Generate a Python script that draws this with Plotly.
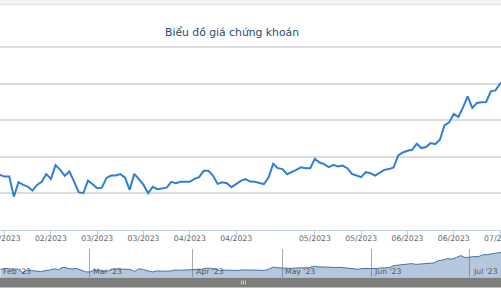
import pandas as pd
import plotly.graph_objects as go

title_text = "Biểu đồ giá chứng khoán"

# closing prices per trading day (Feb 1 2023 .. Jul 12 2023)
prices = [
    17.2, 17.9,
    17.53, 17.30, 17.30, 14.56, 16.53, 16.16, 15.93, 15.38, 16.16, 16.58,
    17.63, 16.99, 18.86, 18.22, 17.40, 17.99, 16.62, 15.16, 15.03, 16.75,
    16.26, 15.71, 15.79, 17.12, 17.44, 17.44, 17.63, 17.16, 15.48, 17.67,
    16.95, 16.16, 15.03, 15.89, 15.58, 15.71, 15.79, 16.58, 16.40, 16.58,
    16.58, 16.58, 16.99, 17.22, 18.08, 18.08, 17.44, 16.30, 16.53, 16.40,
    15.85, 16.30, 16.71, 16.95, 16.62, 16.58, 16.40, 16.26, 17.16, 19.04,
    18.45, 18.32, 17.63, 17.90, 18.22, 18.56, 18.45, 18.45, 19.73, 19.22,
    19.00, 18.59, 18.90, 18.67, 18.81, 18.45, 17.67, 17.44, 17.22, 17.90,
    17.77, 17.44, 17.85, 18.22, 18.32, 18.53, 20.18, 20.59, 20.82, 20.96,
    21.78, 21.19, 21.33, 21.88, 21.74, 22.33, 24.29, 24.70, 25.85, 25.44,
    26.75, 28.26, 26.67, 27.36, 27.44, 27.49, 28.95, 29.08, 30.00,
    30.4, 30.8,
]

holidays = ["2023-05-01", "2023-05-02", "2023-05-03"]
main_tick_dates = ["2023-02-06", "2023-02-20", "2023-03-06", "2023-03-20",
                   "2023-04-03", "2023-04-17", "2023-05-15", "2023-05-29",
                   "2023-06-12", "2023-06-26", "2023-07-10"]
nav_month_dates = ["2023-02-01", "2023-03-01", "2023-04-03", "2023-05-04",
                   "2023-06-01", "2023-07-03"]
grid_values = [15, 20, 25, 30, 35]

days = pd.bdate_range("2023-02-01", "2023-07-12")
days = days[~days.isin(pd.to_datetime(holidays))]
pos = list(range(len(days)))

main_tickvals = [days.get_loc(pd.Timestamp(d)) for d in main_tick_dates]
main_ticktext = [pd.Timestamp(d).strftime("%m/%Y") for d in main_tick_dates]
nav_vals = [days.get_loc(pd.Timestamp(d)) for d in nav_month_dates]
nav_text = [pd.Timestamp(d).strftime("%b '%y") for d in nav_month_dates]

H = 300.0
fig = go.Figure()
fig.add_trace(go.Scatter(x=pos, y=prices, mode="lines",
                         line=dict(color="#2f7ed8", width=2),
                         xaxis="x", yaxis="y", hoverinfo="skip"))
fig.add_trace(go.Scatter(x=pos, y=prices, mode="lines",
                         line=dict(color="#4572A7", width=1),
                         fill="tozeroy", fillcolor="rgba(69,114,167,0.4)",
                         xaxis="x2", yaxis="y2", hoverinfo="skip"))

font = "DejaVu Sans"
fig.update_layout(
    width=501, height=300,
    margin=dict(l=0, r=0, t=0, b=0),
    paper_bgcolor="white", plot_bgcolor="rgba(0,0,0,0)",
    showlegend=False,
    title=dict(text=title_text, x=232 / 501, xanchor="center",
               y=1 - 32 / H, yanchor="middle",
               font=dict(family=font, size=10.8, color="#274b6d")),
    xaxis=dict(domain=[0, 1], range=[2, 110.2], anchor="y",
               tickmode="array", tickvals=main_tickvals, ticktext=main_ticktext,
               ticklabeloverflow="allow", automargin=False,
               ticklabelstandoff=-4,
               showgrid=False, zeroline=False,
               showline=True, linecolor="#C0D0E0", linewidth=1,
               ticks="outside", ticklen=5, tickcolor="#C0D0E0",
               tickfont=dict(family=font, size=7.7, color="#666666")),
    yaxis=dict(domain=[1 - 230 / H, 1 - 44.1 / H], range=[10, 35.4], anchor="x",
               tickmode="array", tickvals=grid_values, showticklabels=False,
               showgrid=True, gridcolor="#dcdcdc", gridwidth=1.5,
               zeroline=False, showline=False, automargin=False),
    xaxis2=dict(domain=[0, 1], range=[-0.1, 112], anchor="y2",
                tickmode="array", tickvals=nav_vals, showticklabels=False,
                showgrid=True, gridcolor="#a9a9a9", gridwidth=1,
                zeroline=False, showline=False, ticks="", automargin=False),
    yaxis2=dict(domain=[1 - 277 / H, 1 - 249 / H], range=[11, 33.6], anchor="x2",
                showgrid=False, showticklabels=False, zeroline=False,
                showline=False, ticks="", automargin=False),
)

for v, t in zip(nav_vals, nav_text):
    fig.add_annotation(x=v, xref="x2", y=1 - 271.3 / H, yref="paper",
                       text=t, showarrow=False, xanchor="left", yanchor="middle",
                       xshift=1, font=dict(family=font, size=7.7, color="#555555"))

shapes = [
    dict(type="rect", xref="paper", yref="paper", x0=0, x1=1, y0=1 - 4.5 / H, y1=1,
         fillcolor="#f4f4f4", line=dict(width=0), layer="below"),
    dict(type="line", xref="paper", yref="paper", x0=0, x1=1, y0=1 - 4.5 / H, y1=1 - 4.5 / H,
         line=dict(color="#e0e0e0", width=1)),
    dict(type="rect", xref="paper", yref="paper", x0=0, x1=1, y0=1 - 287.5 / H, y1=1 - 277.5 / H,
         fillcolor="#7d7d7d", line=dict(width=0)),
]
for gx in (241.5, 243.5, 245.5):
    shapes.append(dict(type="line", xref="paper", yref="paper", x0=gx / 501, x1=gx / 501,
                       y0=1 - 284.5 / H, y1=1 - 280.5 / H, line=dict(color="#d0d0d0", width=1)))
fig.update_layout(shapes=shapes)

fig.write_html("out.html")
